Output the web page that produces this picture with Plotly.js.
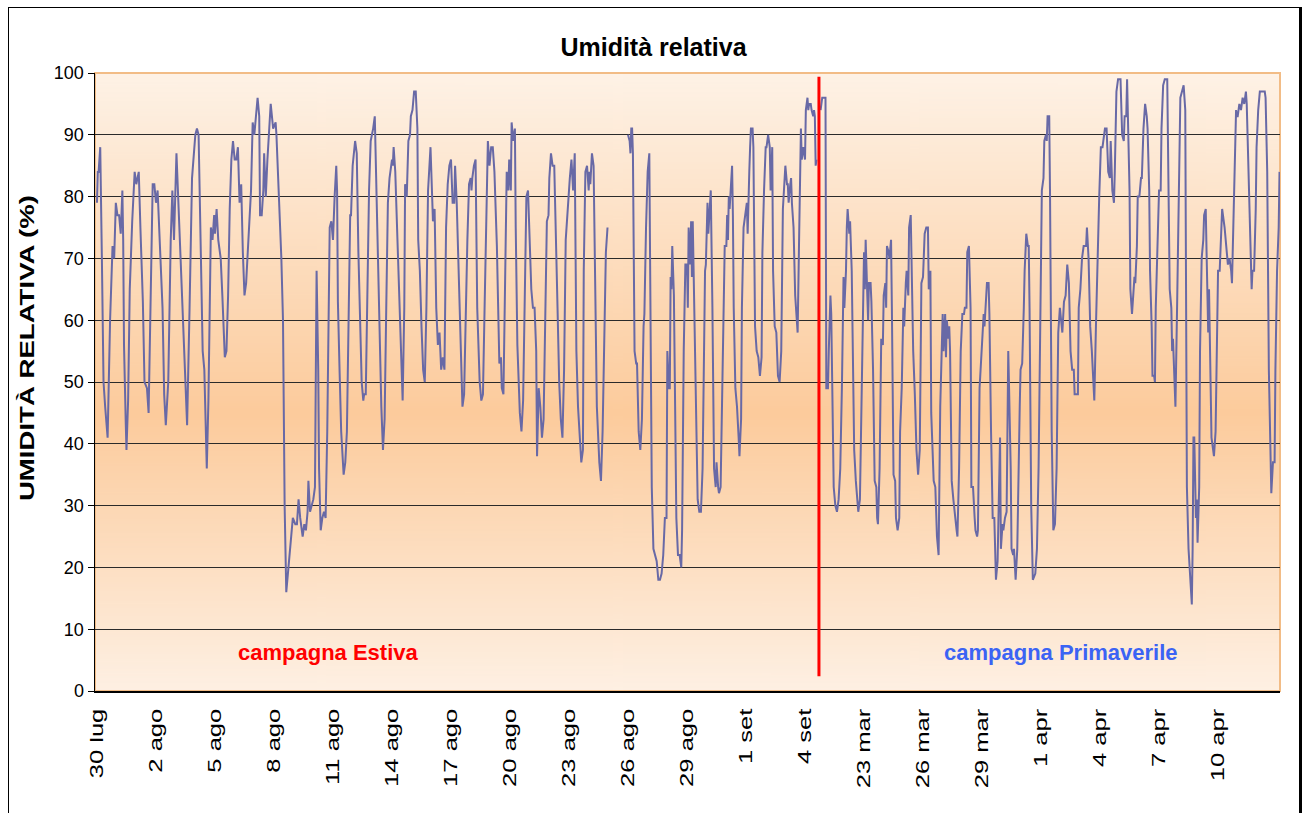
<!DOCTYPE html>
<html>
<head>
<meta charset="utf-8">
<script src="https://cdn.plot.ly/plotly-3.0.1.min.js"></script>
<style>
  html, body { margin: 0; padding: 0; background: #fff; }
  #wrap { position: relative; width: 1307px; height: 813px; overflow: hidden; }
  #chart { width: 1307px; height: 813px; }
  #frame { position: absolute; left: 8px; top: 7px; width: 1290px; height: 900px;
           border-left: 1px solid #000; border-top: 1px solid #000; border-right: 3px solid #000;
           pointer-events: none; }
</style>
</head>
<body>
<div id="wrap">
  <div id="chart"></div>
  <div id="frame"></div>
</div>
<script>
// ---- Data (hourly sample index along the category axis, relative humidity %) ----
const tickHours = [0, 72, 144, 216, 288, 360, 432, 504, 576, 648, 720, 792, 864, 936, 1008, 1080, 1152, 1224, 1296, 1368];
const tickLabels = ["30 lug", "2 ago", "5 ago", "8 ago", "11 ago", "14 ago", "17 ago", "20 ago", "23 ago", "26 ago",
                    "29 ago", "1 set", "4 set", "23 mar", "26 mar", "29 mar", "1 apr", "4 apr", "7 apr", "10 apr"];

// Summer campaign (campagna Estiva)
const summerHour = [0,1,2,4,6,8,10,13,16,19,21,23,25,27,29,31,32,33,35,36,38,40,43,46,48,51,53,56,58,61,63,66,68,70,72,74,77,79,80,82,84,87,90,92,94,97,100,103,107,110,113,116,120,122,124,127,129,131,134,136,139,141,143,
144,146,148,151,153,156,158,160,162,164,166,168,170,172,174,176,178,180,182,184,186,188,190,192,194,196,198,199,201,203,204,206,208,210,212,215,218,219,222,225,227,228,229,231,233,235,237,239,242,244,246,248,251,253,255,257,258,260,262,264,266,267,268,270,271,273,275,277,279,281,283,284,286,288,290,
292,293,294,296,298,301,303,305,307,309,310,312,315,317,319,321,323,325,326,328,330,332,334,337,339,341,343,345,347,349,351,353,355,357,360,361,362,364,367,369,371,373,375,376,378,380,382,383,385,387,389,391,392,394,396,398,400,402,404,407,408,410,412,414,416,418,420,422,424,426,428,430,432,434,
436,437,439,441,443,445,446,448,450,452,454,456,457,458,460,462,464,467,469,471,473,475,477,479,481,483,485,488,491,493,494,496,498,500,502,503,505,506,508,510,511,513,516,518,520,522,524,526,528,530,532,534,536,537,539,541,543,545,547,549,551,552,554,556,558,560,562,564,566,568,570,572,574,576,577,579,581,583,
584,585,587,589,591,593,594,596,598,600,601,602,604,606,608,610,613,615,617,619,621,623,635,648,650,651,652,653,654,656,658,659,661,663,665,667,668,670,671,672,674,675,677,679,681,683,685,687,689,691,693,695,696,698,699,700,701,702,704,705,707,709,711,713,714,716,718,720,721,722,724,725,726,727,728,
729,731,733,735,737,739,740,742,743,745,746,748,749,751,753,755,756,758,759,761,763,764,766,768,769,770,771,772,773,775,776,777,779,781,783,784,786,787,789,791,793,794,795,796,797,798,800,801,803,805,807,809,811,812,814,816,817,819,821,822,824,825,827,829,831,833,835,837,840,842,843,844,846,847,848,850,852,854,855,857,858,859,860,862,864,865,867,868,869,871,872,874,875,876,877,878];
const summerRH = [79,84,84,88,70,50,46,41,60,72,70,79,77,77,74,81,73,56,44,39,47,65,76,84,82,84,75,63,50,49,45,64,82,82,79,81,72,66,62,48,43,50,73,81,73,87,77,68,52,43,62,83,90,91,90,68,55,52,36,47,75,73,77,
74,78,73,70,64,54,55,64,78,86,89,86,86,88,79,82,71,64,66,71,76,81,92,90,93,96,93,77,77,81,87,80,86,91,95,91,92,90,81,70,60,42,30,16,19,22,25,28,27,27,31,28,25,27,26,29,34,29,30,31,33,49,68,52,36,26,28,29,28,42,62,75,76,73,80,
85,81,63,52,42,35,37,42,62,77,77,85,89,87,71,62,50,47,48,48,68,81,89,91,93,81,68,55,46,39,44,62,79,83,86,85,88,84,71,62,52,47,62,82,80,89,90,93,94,97,97,91,73,68,59,52,50,62,81,88,84,76,78,62,56,58,52,54,52,75,82,85,86,79,
79,85,79,70,61,52,46,48,62,73,82,83,81,83,85,86,62,50,47,48,62,75,89,85,88,88,84,72,53,54,49,48,64,84,81,86,81,92,89,91,75,56,45,42,47,62,80,81,73,65,62,62,55,38,49,46,41,44,60,76,77,83,87,85,85,71,62,50,44,41,52,73,77,82,83,86,81,87,
75,55,46,42,37,39,68,84,85,81,84,82,87,85,62,46,37,34,42,59,71,75,null,90,89,87,91,91,87,55,53,53,42,39,44,59,61,75,82,84,87,62,33,23,22,21,18,18,19,22,28,28,55,49,49,67,65,72,64,47,28,22,22,20,26,55,69,69,62,75,69,76,67,76,68,
62,42,31,29,29,36,49,68,69,79,74,79,81,62,36,33,37,33,32,33,49,62,72,72,77,73,80,78,81,85,77,62,49,46,41,38,44,62,75,77,79,74,82,84,88,91,91,88,59,55,54,51,54,71,81,88,88,90,88,81,88,68,59,58,51,50,55,78,85,82,82,79,82,83,79,75,64,59,58,75,86,91,86,88,86,94,96,94,95,95,94,93,94,93,85,86];

// Spring campaign (campagna Primaverile)
const springHour = [883,885,888,889,890,892,893,895,896,898,899,901,903,905,907,909,911,912,914,915,916,918,919,921,923,924,926,927,929,931,933,935,936,937,938,940,941,942,944,945,947,949,951,952,953,955,957,959,960,962,963,964,966,967,969,970,972,974,975,977,979,980,982,984,985,987,988,990,991,993,994,996,998,1000,1002,1004,1006,1008,1010,1012,1014,1015,1017,1018,1021,1023,1025,1027,
1029,1031,1032,1033,1035,1036,1037,1039,1040,1041,1043,1045,1047,1049,1050,1052,1054,1056,1058,1059,1061,1062,1064,1066,1067,1069,1071,1072,1074,1075,1077,1080,1082,1083,1084,1085,1086,1088,1089,1091,1093,1095,1097,1099,1101,1102,1103,1105,1106,1108,1110,1111,1112,1113,1115,1116,1118,1119,1121,1123,1124,1126,1127,1129,1131,1132,1134,1136,1137,1138,1140,1142,1145,1147,1149,1151,1153,1155,1156,1158,1159,1160,1162,1163,1165,1167,1169,1171,1173,1175,
1177,1178,1180,1182,1184,1186,1188,1190,1192,1193,1195,1197,1198,1200,1202,1204,1207,1208,1210,1212,1214,1216,1217,1219,1221,1223,1225,1227,1228,1230,1232,1234,1236,1237,1239,1241,1242,1244,1246,1249,1251,1253,1254,1256,1257,1258,1260,1261,1263,1264,1266,1267,1269,1270,1272,1274,1275,1277,1279,1281,1282,1284,1285,1287,1288,1290,1291,1292,1294,1296,1298,1299,1301,1303,1306,1307,1309,1311,1312,1313,1315,1316,1318,1320,1321,
1322,1324,1326,1328,1330,1332,1334,1336,1337,1338,1339,1341,1342,1343,1345,1346,1348,1350,1351,1353,1354,1356,1357,1359,1360,1362,1363,1365,1367,1368,1370,1372,1373,1374,1376,1378,1380,1382,1384,1385,1387,1389,1390,1391,1392,1394,1396,1397,1398,1400,1402,1403,1405,1407,1409,1410,1412,1414,1415,1417,1419,1421,1423,1425,1426,1428,1430,1432,1433,1435,1437,1438,1440,1442,1443];
const springRH = [94,96,96,96,49,49,55,64,61,42,33,30,29,31,36,49,67,62,68,75,78,74,76,68,52,39,34,32,29,31,46,63,71,65,73,64,60,66,66,63,52,34,33,28,27,36,57,56,64,66,62,72,71,70,73,62,35,34,28,26,28,42,49,62,59,66,68,64,75,77,68,55,48,39,35,39,66,67,74,75,75,65,68,45,34,33,25,22,
46,59,61,55,61,54,60,57,59,55,34,31,28,26,25,36,55,61,61,62,62,71,72,62,33,33,28,26,25,26,49,57,61,59,61,64,66,66,61,42,28,28,18,21,36,41,23,27,26,28,29,46,55,49,36,23,22,23,18,23,33,46,52,53,62,68,74,72,72,62,30,18,19,23,36,55,81,83,89,90,89,93,93,80,42,26,27,36,58,62,
59,58,63,64,69,66,55,52,52,48,48,48,62,65,70,72,72,75,70,59,55,49,47,59,71,80,88,88,89,91,91,84,83,89,81,79,84,97,99,99,90,89,93,93,99,91,81,65,61,63,67,66,72,80,80,83,83,91,95,93,91,81,68,59,51,51,50,62,71,81,81,91,98,99,99,88,65,62,55,57,50,46,62,81,88,
96,97,98,94,33,23,19,14,23,41,41,28,31,24,33,55,70,73,77,78,71,58,65,52,41,39,38,42,65,68,68,77,78,77,75,72,69,70,68,66,78,91,94,93,93,95,94,95,96,95,97,95,84,71,65,68,68,78,88,94,97,97,97,97,96,84,52,39,32,37,37,52,68,75,84];

// Campaign separator and labels
const separatorHour = 881;
const campaignLabels = [
  {text: "campagna Estiva", hour: 282, rh: 6.3, color: "#FF0000"},
  {text: "campagna Primaverile", hour: 1176, rh: 6.3, color: "#3B63F4"}
];

// ---- Background gradient (plot area) ----
const cv = document.createElement('canvas');
cv.width = 8; cv.height = 512;
const ctx = cv.getContext('2d');
const grad = ctx.createLinearGradient(0, 0, 0, 512);
grad.addColorStop(0.00, '#FEF2E6');
grad.addColorStop(0.55, '#FCCB9C');
grad.addColorStop(1.00, '#FEF0E3');
ctx.fillStyle = grad;
ctx.fillRect(0, 0, 8, 512);
const bgURL = cv.toDataURL('image/png');

const FONT = 'Arial, "Liberation Sans", sans-serif';
const lineColor = '#6869A6';

const traces = [
  {x: summerHour, y: summerRH, type: 'scatter', mode: 'lines', connectgaps: false,
   line: {color: lineColor, width: 2}, hoverinfo: 'x+y', showlegend: false},
  {x: springHour, y: springRH, type: 'scatter', mode: 'lines',
   line: {color: lineColor, width: 2}, hoverinfo: 'x+y', showlegend: false}
];

const layout = {
  width: 1307, height: 813,
  margin: {l: 95, r: 27, t: 73, b: 122},
  paper_bgcolor: '#ffffff',
  plot_bgcolor: 'rgba(0,0,0,0)',
  font: {family: FONT, color: '#000'},
  title: {text: '<b>Umidità relativa</b>', font: {family: FONT, size: 25, color: '#000'},
          x: 0.5, xref: 'container', xanchor: 'center', y: 1 - 47/813, yref: 'container', yanchor: 'middle'},
  xaxis: {
    range: [-2.4, 1443.6], tickmode: 'array', tickvals: tickHours, ticktext: tickLabels,
    tickangle: -90, ticks: '', showgrid: false, zeroline: false, ticklabelstandoff: 9,
    showline: true, linecolor: '#000', linewidth: 1.5,
    tickfont: {family: FONT, size: 18, color: '#000'}
  },
  yaxis: {
    range: [0, 100], dtick: 10, tick0: 0, ticks: 'outside', ticklen: 6, tickcolor: '#000', tickwidth: 1,
    showgrid: true, gridcolor: '#2a2a2a', gridwidth: 1, zeroline: false,
    showline: true, linecolor: '#000', linewidth: 1.5,
    tickfont: {family: FONT, size: 18, color: '#000'}
  },
  images: [{source: bgURL, xref: 'paper', yref: 'paper', x: 0, y: 1, sizex: 1, sizey: 1,
            sizing: 'stretch', xanchor: 'left', yanchor: 'top', layer: 'below'}],
  shapes: [
    {type: 'rect', xref: 'paper', yref: 'paper', x0: 0, x1: 1, y0: 0, y1: 1,
     line: {color: '#F2BC86', width: 2}, fillcolor: 'rgba(0,0,0,0)', layer: 'below'},
    {type: 'line', xref: 'x', yref: 'y', x0: separatorHour, x1: separatorHour, y0: 2.4, y1: 99.4,
     line: {color: '#FF0000', width: 3}, layer: 'above'}
  ],
  annotations: [
    {text: '<b>UMIDITÀ RELATIVA (%)</b>', xref: 'paper', yref: 'paper', x: -0.0574, y: 0.555,
     xanchor: 'center', yanchor: 'middle', textangle: -90, showarrow: false,
     font: {family: FONT, size: 20, color: '#000'}}
  ].concat(campaignLabels.map(c => ({
     text: '<b>' + c.text + '</b>', xref: 'x', yref: 'y', x: c.hour, y: c.rh,
     xanchor: 'center', yanchor: 'middle', showarrow: false,
     font: {family: FONT, size: 22, color: c.color}
  })))
};

// The reference draws its rotated texts elongated along their length; reproduce with SVG textLength.
function stretchText(el, k) {
  const L = el.getComputedTextLength();
  if (L > 0) {
    el.setAttribute('textLength', (L * k).toFixed(1));
    el.setAttribute('lengthAdjust', 'spacingAndGlyphs');
  }
}

Plotly.newPlot('chart', traces, layout, {displayModeBar: false, staticPlot: true}).then(gd => {
  gd.querySelectorAll('.xtick text').forEach(t => stretchText(t, 1.42));
  gd.querySelectorAll('.annotation-text').forEach(t => {
    if (t.textContent.indexOf('UMIDIT') === 0) stretchText(t, 1.38);
  });
});
</script>
</body>
</html>
